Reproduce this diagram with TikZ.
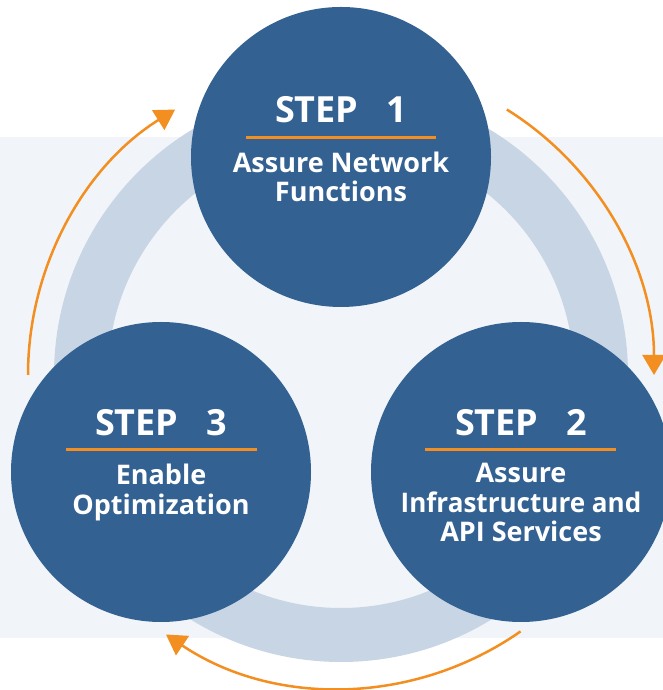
\documentclass[tikz,border=0pt]{standalone}
\usepackage{fontspec}
\setmainfont{Open Sans}
\usetikzlibrary{arrows.meta}
\definecolor{panel}{RGB}{241,245,249}
\definecolor{ringc}{RGB}{200,213,228}
\definecolor{stepblue}{RGB}{50,97,146}
\definecolor{orng}{RGB}{243,142,32}
\begin{document}
\begin{tikzpicture}[x=1pt,y=1pt,
  stepcircle/.style={circle,fill=stepblue,minimum size=300pt,inner sep=0pt},
  steptitle/.style={text=white,font=\fontsize{36}{40}\selectfont\bfseries,anchor=base,inner sep=0pt},
  stepdesc/.style={text=white,font=\fontsize{27}{30}\selectfont\bfseries,anchor=base,inner sep=0pt},
  uline/.style={orng,line width=3pt},
  cyc/.style={orng,line width=2.5pt,-{Triangle[length=20pt,width=23pt]}}]
\useasboundingbox (0,0) rectangle (663,690);
\begin{scope}
\clip (0,0) rectangle (663,690);
\fill[panel] (0,52.3) rectangle (663,553.3);
\coordinate (ctr) at (341,315);
\draw[ringc,line width=54pt] (ctr) circle[radius=260];
% cycle arrows
\coordinate (a1s) at ([shift={(58:313)}]ctr);
\coordinate (a2s) at ([shift={(-55:313)}]ctr);
\coordinate (a3s) at ([shift={(180:313)}]ctr);
\draw[cyc] (a1s) arc[start angle=58,end angle=0,radius=313];
\draw[cyc] (a2s) arc[start angle=-55,end angle=-124,radius=313];
\draw[cyc] (a3s) arc[start angle=180,end angle=122,radius=313];
% circles
\node[stepcircle] (c1) at (341,533) {};
\node[stepcircle] (c2) at (521,218) {};
\node[stepcircle] (c3) at (161,218) {};
\end{scope}
% step 1
\node[steptitle] (t1) at (341,567) {STEP\hspace{28pt}1};
\draw[uline] (246,552) -- (436,552);
\node[stepdesc] (d1a) at (341,517) {Assure Network};
\node[stepdesc] (d1b) at (341,488) {Functions};
% step 3
\node[steptitle] (t3) at (161,254) {STEP\hspace{28pt}3};
\draw[uline] (65.5,240) -- (257,240);
\node[stepdesc] (d3a) at (161,205) {Enable};
\node[stepdesc] (d3b) at (161,175) {Optimization};
% step 2
\node[steptitle] (t2) at (521,254) {STEP\hspace{28pt}2};
\draw[uline] (425,240) -- (616,240);
\node[stepdesc] (d2a) at (521,207) {Assure};
\node[stepdesc] (d2b) at (521,177) {\scalebox{0.965}[1]{Infrastructure and}};
\node[stepdesc] (d2c) at (521,148) {API Services};
\end{tikzpicture}
\end{document}
